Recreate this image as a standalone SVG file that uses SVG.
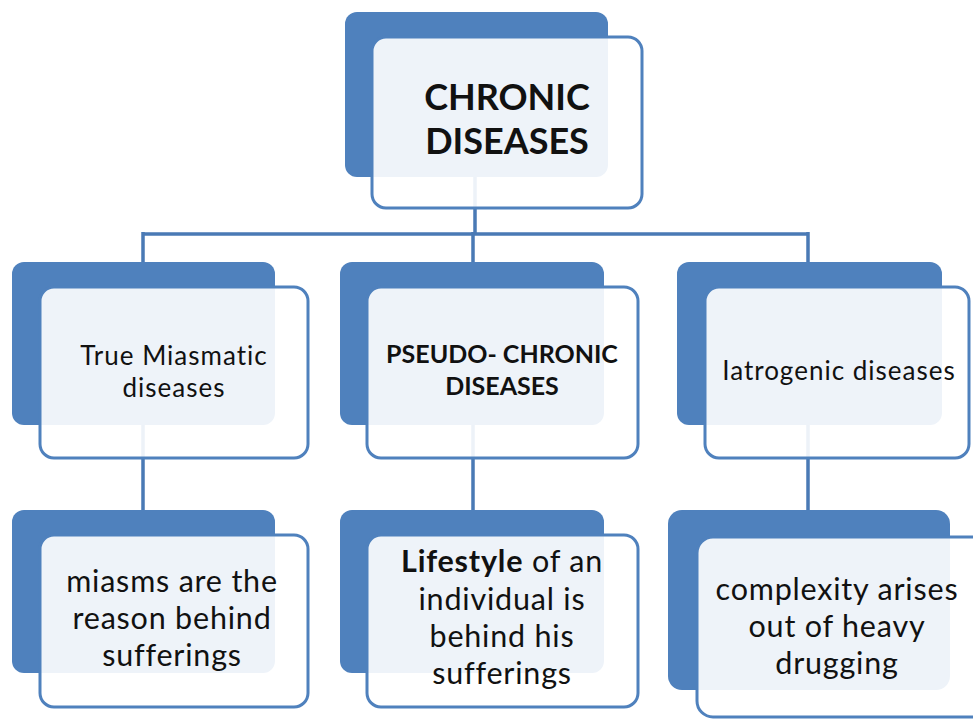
<svg xmlns="http://www.w3.org/2000/svg" width="973" height="719" viewBox="0 0 973 719">
<style>
.back{fill:#4f81bd}
.front{fill:#ffffff;fill-opacity:0.9;stroke:#4f81bd;stroke-width:3}
.conn{stroke:#4a7ab5;stroke-width:3.5;fill:none}
text{font-family:Lato,"Open Sans",sans-serif;fill:#111;text-anchor:middle}
.t0{font-size:36px;font-weight:bold}
.t1{font-size:26px;letter-spacing:1px}
.t1b{font-size:25px;font-weight:bold}
.t2{font-size:30.5px;letter-spacing:0.8px}
</style>
<rect width="973" height="719" fill="#ffffff"/>
<g id="connectors">
<path class="conn" d="M475 177V234M143 234H808M143 232V262M473 232V262M808 232V262"/>
<path class="conn" d="M143 425V510M473 425V510M808 425V510"/>
</g>
<g id="n-root">
<rect class="back" x="345" y="12" width="263" height="165" rx="12"/>
<rect class="front" x="372" y="37" width="270" height="171" rx="14"/>
<text class="t0" x="507" y="110">CHRONIC</text>
<text class="t0" x="507" y="154">DISEASES</text>
</g>
<g id="n-true">
<rect class="back" x="12" y="262" width="263" height="163" rx="12"/>
<rect class="front" x="40" y="287" width="268" height="171" rx="14"/>
<text class="t1" x="174" y="365">True Miasmatic</text>
<text class="t1" x="174" y="397">diseases</text>
</g>
<g id="n-pseudo">
<rect class="back" x="340" y="262" width="264" height="163" rx="12"/>
<rect class="front" x="367" y="287" width="271" height="171" rx="14"/>
<text class="t1b" x="502" y="363">PSEUDO- CHRONIC</text>
<text class="t1b" x="502" y="395">DISEASES</text>
</g>
<g id="n-iatro">
<rect class="back" x="677" y="262" width="265" height="163" rx="12"/>
<rect class="front" x="705" y="287" width="264" height="171" rx="14"/>
<text class="t1" x="839" y="380">Iatrogenic diseases</text>
</g>
<g id="n-miasms">
<rect class="back" x="12" y="510" width="263" height="163" rx="12"/>
<rect class="front" x="40" y="535" width="268" height="172" rx="14"/>
<text class="t2" x="172" y="592">miasms are the</text>
<text class="t2" x="172" y="629">reason behind</text>
<text class="t2" x="172" y="666">sufferings</text>
</g>
<g id="n-lifestyle">
<rect class="back" x="340" y="510" width="264" height="163" rx="12"/>
<rect class="front" x="367" y="535" width="271" height="172" rx="14"/>
<text class="t2" x="502" y="572"><tspan font-weight="bold">Lifestyle</tspan> of an</text>
<text class="t2" x="502" y="610">individual is</text>
<text class="t2" x="502" y="647">behind his</text>
<text class="t2" x="502" y="684">sufferings</text>
</g>
<g id="n-complex">
<rect class="back" x="668" y="510" width="282" height="180" rx="14"/>
<rect class="front" x="697" y="537" width="292" height="180" rx="16"/>
<text class="t2" x="837" y="600">complexity arises</text>
<text class="t2" x="837" y="637">out of heavy</text>
<text class="t2" x="837" y="674">drugging</text>
</g>
</svg>
